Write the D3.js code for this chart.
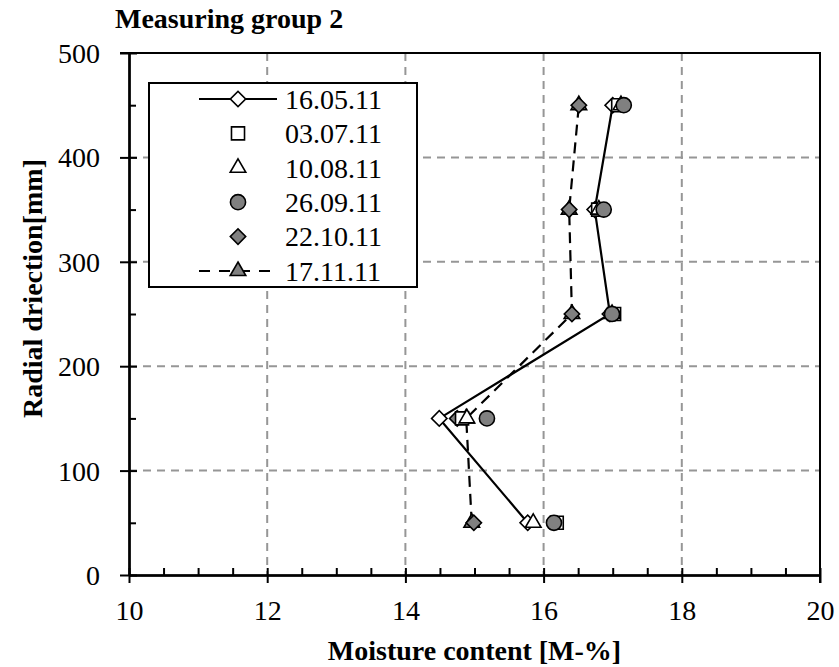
<!DOCTYPE html>
<html>
<head>
<meta charset="utf-8">
<script src="https://cdn.jsdelivr.net/npm/d3@7.9.0/dist/d3.min.js"></script>
<style>
  body { margin: 0; background: #fff; }
  svg text { font-family: "Liberation Serif", "Times New Roman", serif; fill: #000; }
</style>
</head>
<body>
<svg id="chart" width="839" height="667"></svg>
<script>
// depth of each measuring point [mm]
const depths = [50, 150, 250, 350, 450];

// moisture content [M-%] per measuring date
const m160511 = [15.77, 14.49, 16.96, 16.74, 17.00];
const m030711 = [16.19, 14.82, 17.02, 16.79, 17.08];
const m100811 = [15.85, 14.89, 16.99, 16.80, 17.12];
const m260911 = [16.15, 15.18, 16.99, 16.87, 17.16];
const m221011 = [14.99, 14.75, 16.41, 16.37, 16.51];
const m171111 = [14.96, 14.88, 16.41, 16.37, 16.51];

const dates = ['16.05.11', '03.07.11', '10.08.11', '26.09.11', '22.10.11', '17.11.11'];

const xTicks = [10, 12, 14, 16, 18, 20];
const xMinor = d3.range(10.5, 20, 0.5).filter(v => v % 2 !== 0);
const yTicks = [0, 100, 200, 300, 400, 500];
const yMinor = [50, 150, 250, 350, 450];

const svg = d3.select('#chart');
const plotL = 129, plotR = 820, plotT = 53, plotB = 575;
const serif = '"Liberation Serif", "Times New Roman", serif';

const x = d3.scaleLinear().domain([10, 20]).range([plotL, plotR]);
const y = d3.scaleLinear().domain([0, 500]).range([plotB, plotT]);

const grey = '#808080';

// series styling (marker shape, fill, line)
const series = [
    { name: dates[0], values: m160511, symbol: 'diamond', fill: '#fff', line: 'solid' },
    { name: dates[1], values: m030711, symbol: 'square', fill: '#fff', line: null },
    { name: dates[2], values: m100811, symbol: 'triangle', fill: '#fff', line: null },
    { name: dates[3], values: m260911, symbol: 'circle', fill: grey, line: null },
    { name: dates[4], values: m221011, symbol: 'diamond', fill: grey, line: null },
    { name: dates[5], values: m171111, symbol: 'triangle', fill: grey, line: 'dashed' },
];

function symbolPath(kind) {
    if (kind === 'diamond') return d3.symbol(d3.symbolSquare, 118)();
    if (kind === 'square') return d3.symbol(d3.symbolSquare, 170)();
    if (kind === 'triangle') return d3.symbol(d3.symbolTriangle, 105)();
    return d3.symbol(d3.symbolCircle, 180)();
}

function drawMarker(g, kind, fill, cx, cy) {
    g.append('path')
        .attr('d', symbolPath(kind))
        .attr('transform', `translate(${cx},${cy})` + (kind === 'diamond' ? ' rotate(45)' : ''))
        .attr('fill', fill)
        .attr('stroke', '#000')
        .attr('stroke-width', 1.6);
}

// grid lines
const grid = svg.append('g');
grid.selectAll('.vg').data(xTicks.filter(v => v > 10 && v < 20)).join('line')
    .attr('x1', d => x(d)).attr('x2', d => x(d))
    .attr('y1', plotT).attr('y2', plotB)
    .attr('stroke', '#969696').attr('stroke-width', 2).attr('stroke-dasharray', '8,6');
grid.selectAll('.hg').data(yTicks.filter(v => v > 0 && v < 500)).join('line')
    .attr('x1', plotL).attr('x2', plotR)
    .attr('y1', d => y(d)).attr('y2', d => y(d))
    .attr('stroke', '#969696').attr('stroke-width', 2).attr('stroke-dasharray', '8,6');

// plot border (top and right)
svg.append('path')
    .attr('d', `M${plotL - 9},${plotT}H${plotR}V${plotB + 8}`)
    .attr('fill', 'none').attr('stroke', '#000').attr('stroke-width', 2);

// x axis: crossing major ticks, inward minor ticks
const xAxis = svg.append('g').attr('transform', `translate(0,${plotB})`);
xAxis.call(d3.axisBottom(x).tickValues(xTicks).tickSize(8).tickSizeOuter(0).tickPadding(0));
xAxis.append('g').call(d3.axisBottom(x).tickValues(xTicks).tickSize(-7).tickSizeOuter(0).tickFormat(''));
xAxis.append('g').call(d3.axisBottom(x).tickValues(xMinor).tickSize(-7).tickSizeOuter(0).tickFormat(''));
xAxis.selectAll('text').attr('y', 45).attr('dy', 0)
    .attr('font-family', serif).style('font-size', '28px');

// y axis
const yAxis = svg.append('g').attr('transform', `translate(${plotL},0)`);
yAxis.call(d3.axisLeft(y).tickValues(yTicks).tickSize(9).tickSizeOuter(0).tickPadding(0));
yAxis.append('g').call(d3.axisLeft(y).tickValues(yTicks).tickSize(-8).tickSizeOuter(0).tickFormat(''));
yAxis.append('g').call(d3.axisLeft(y).tickValues(yMinor).tickSize(-7).tickSizeOuter(0).tickFormat(''));
yAxis.selectAll('text').attr('x', -29).attr('dy', '0.34em')
    .attr('font-family', serif).style('font-size', '28px');

svg.selectAll('.domain, .tick line').attr('stroke', '#000').attr('stroke-width', 2);

// lines
const line = d3.line().x(d => x(d[0])).y(d => y(d[1]));
series.filter(s => s.line).forEach(s => {
    svg.append('path')
        .datum(s.values.map((v, i) => [v, depths[i]]))
        .attr('d', line)
        .attr('fill', 'none')
        .attr('stroke', '#000')
        .attr('stroke-width', 2.2)
        .attr('stroke-dasharray', s.line === 'dashed' ? '11,7' : null);
});

// markers (draw order as in the original)
const markers = svg.append('g');
[5, 4, 0, 1, 2, 3].forEach(k => {
    const s = series[k];
    s.values.forEach((v, i) => drawMarker(markers, s.symbol, s.fill, x(v), y(depths[i])));
});

// legend
const legend = svg.append('g');
legend.append('rect')
    .attr('x', 149).attr('y', 83).attr('width', 268).attr('height', 204)
    .attr('fill', '#fff').attr('stroke', '#000').attr('stroke-width', 2);
series.forEach((s, i) => {
    const ly = 99 + i * 34.4;
    if (s.line) {
        legend.append('line')
            .attr('x1', 199).attr('x2', 277).attr('y1', ly).attr('y2', ly)
            .attr('stroke', '#000').attr('stroke-width', 2.2)
            .attr('stroke-dasharray', s.line === 'dashed' ? '11,9' : null);
    }
    drawMarker(legend, s.symbol, s.fill, 238, ly);
    legend.append('text')
        .attr('x', 285).attr('y', ly).attr('dy', '0.35em')
        .attr('font-family', serif)
        .style('font-size', '28px')
        .text(s.name);
});

// titles
svg.append('text')
    .attr('x', 115).attr('y', 28)
    .attr('font-family', serif)
    .style('font-size', '28px').style('font-weight', 'bold')
    .text('Measuring group 2');

svg.append('text')
    .attr('x', (plotL + plotR) / 2).attr('y', 660)
    .attr('text-anchor', 'middle')
    .attr('font-family', serif)
    .style('font-size', '28px').style('font-weight', 'bold')
    .text('Moisture content [M-%]');

svg.append('text')
    .attr('transform', 'translate(42,418) rotate(-90)')
    .attr('font-family', serif)
    .style('font-size', '28px').style('font-weight', 'bold')
    .text('Radial driection[mm]');
</script>
</body>
</html>
